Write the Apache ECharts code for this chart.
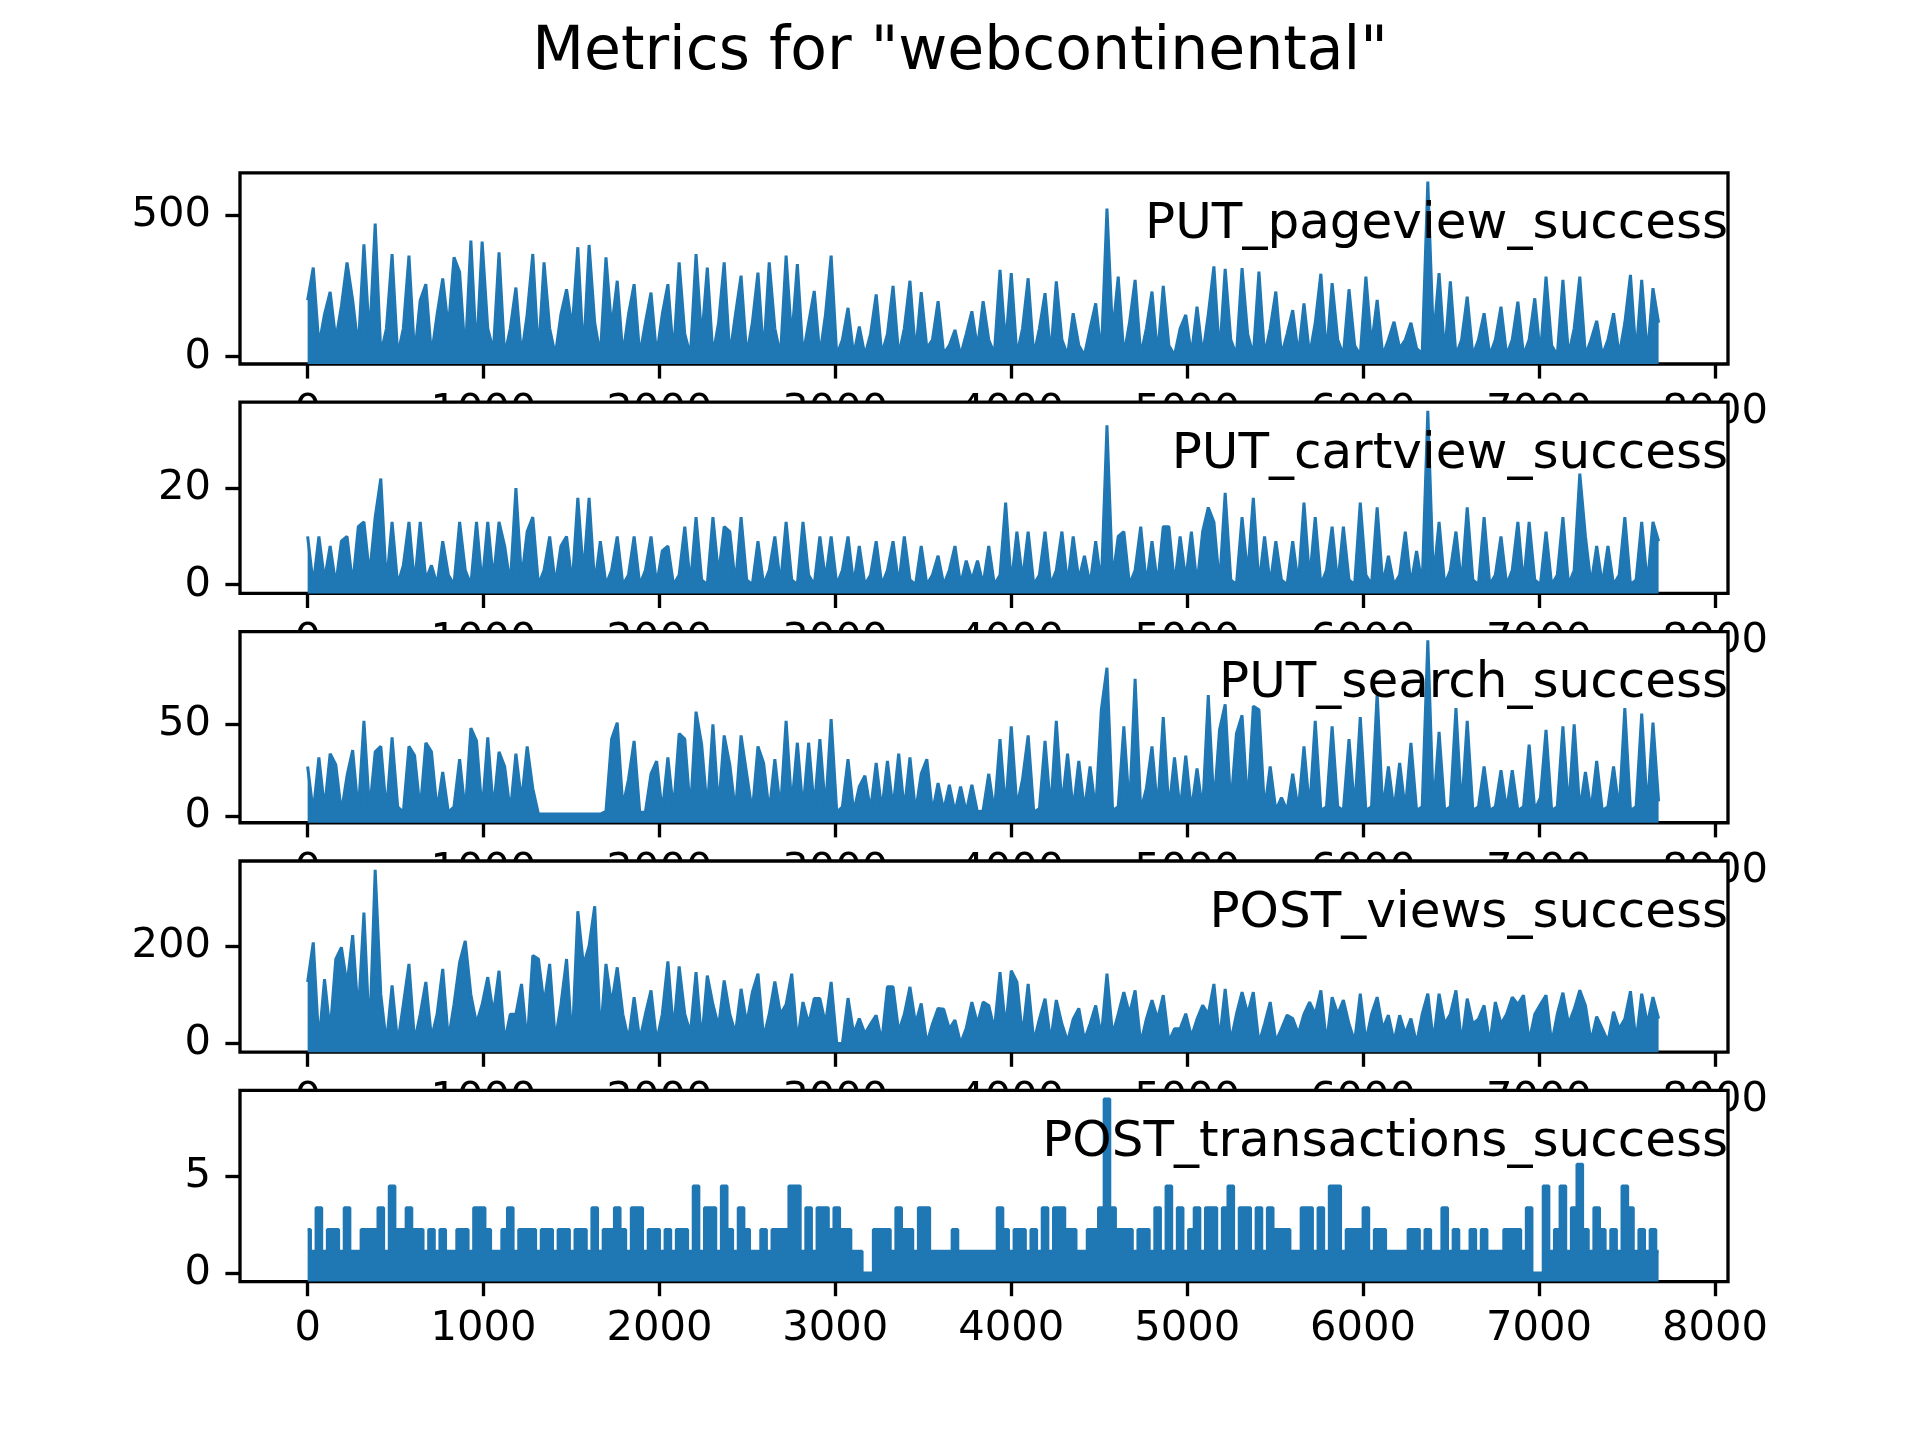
<!DOCTYPE html>
<html>
<head>
<meta charset="utf-8">
<script src="https://cdn.jsdelivr.net/npm/echarts@6/dist/echarts.min.js"></script>
<style>
html,body{margin:0;padding:0;background:#ffffff;}
#chart{width:1920px;height:1440px;}
</style>
</head>
<body>
<div id="chart"></div>
<script>
// ---- data ----
const chartTitle = 'Metrics for "webcontinental"';
const panelNames = ['PUT_pageview_success', 'PUT_cartview_success', 'PUT_search_success', 'POST_views_success', 'POST_transactions_success'];
const sampleStep = 32;      // time-index spacing of the values below
const seriesLength = 7691;  // number of points of the original series
const xTickValues = [0, 1000, 2000, 3000, 4000, 5000, 6000, 7000, 8000];
const yTickValues = [[0, 500], [0, 20], [0, 50], [0, 200], [0, 5]];

const pageview = [
200,316,40,150,230,60,180,334,200,30,
398,60,472,10,100,364,5,100,358,5,
200,257,5,150,277,100,352,300,5,412,
10,408,100,20,370,5,100,245,5,150,
364,5,334,100,5,150,239,100,388,5,
396,120,5,352,100,269,5,150,257,5,
120,227,5,150,257,5,334,80,5,364,
60,316,5,120,334,5,150,287,5,120,
298,5,334,100,5,358,60,328,5,120,
233,5,150,358,5,60,173,5,107,5,
80,221,10,80,251,5,100,269,10,229,
30,60,197,10,40,95,5,80,161,30,
197,60,10,308,40,296,5,100,278,5,
100,225,5,267,60,5,154,40,5,100,
189,5,525,80,284,5,120,272,5,100,
231,5,251,40,5,100,148,5,177,5,
150,320,5,311,60,5,314,80,5,302,
5,100,231,5,80,165,5,189,5,120,
294,5,261,60,5,239,40,5,284,40,
201,5,60,124,30,60,120,30,10,621,
60,296,5,267,5,60,213,5,60,154,
5,60,177,5,60,195,5,60,207,5,
284,40,5,272,5,100,284,5,60,127,
5,60,154,5,120,290,5,272,5,243,
120
];

const cartview = [
10,0,10,1,8,0,9,10,0,12,
13,2,14,22,0,13,0,4,13,0,
13,1,4,0,9,2,0,13,3,0,
13,0,13,1,13,8,0,20,1,11,
14,0,3,10,0,8,10,0,18,2,
18,0,9,0,3,10,0,2,10,0,
3,10,0,7,8,0,2,12,0,14,
1,0,14,2,12,11,0,14,1,0,
9,0,3,10,0,13,1,0,13,2,
0,10,1,10,0,3,10,0,8,0,
2,9,0,3,9,0,10,1,0,8,
0,2,6,0,3,8,0,5,1,5,
0,8,0,2,17,0,11,1,11,0,
2,11,0,3,11,0,10,1,6,0,
9,0,33,1,10,11,0,3,12,0,
9,0,12,12,0,10,1,11,0,11,
16,13,0,19,1,0,14,2,18,0,
10,0,9,1,0,9,0,17,1,14,
0,3,12,0,12,1,0,17,2,0,
16,0,6,0,2,11,0,7,0,36,
1,13,0,3,11,0,16,1,0,14,
0,2,10,0,3,13,0,13,1,0,
11,0,2,14,0,3,23,10,0,8,
0,8,0,2,14,0,1,13,0,13,
9
];

const search = [
27,2,32,4,34,28,2,22,36,2,
52,3,35,38,2,43,5,2,38,33,
3,40,35,3,24,2,5,31,2,48,
41,2,43,3,35,27,2,34,8,38,
15,1,1,1,1,1,1,1,1,1,
1,1,1,2.5,42,51,5,20,41,2,
2,23,30,2,32,3,45,42,2,57,
39,3,50,4,44,28,2,44,23,2,
38,29,2,31,3,52,5,40,3,40,
4,42,3,53,2,5,31,2,16,22,
3,29,3,30,4,34,3,32,2,23,
31,2,18,3,17,2,16,2,17,2,
3,23,2,42,3,49,5,20,44,2,
4,41,3,52,5,34,3,30,3,27,
3,58,81,3,5,49,3,75,3,15,
38,3,54,3,32,3,33,3,26,3,
66,5,47,61,5,45,55,5,60,58,
3,27,3,10,3,23,3,38,3,52,
3,5,49,5,3,42,3,54,3,5,
67,3,27,3,29,3,40,3,5,96,
3,46,3,5,59,3,52,3,5,27,
3,5,25,3,25,3,5,39,3,10,
47,3,5,49,3,50,3,24,3,30,
3,5,27,3,59,3,5,56,3,51,
8
];

const views = [
126,207,0,132,24,173,197,120,222,58,
268,11,356,100,0,119,0,80,163,4,
60,126,11,60,153,7,80,166,210,100,
41,80,136,60,149,4,60,60,122,0,
180,173,80,163,7,80,173,0,271,160,
200,281,14,163,80,156,60,7,95,7,
60,109,4,60,168,24,158,60,21,146,
4,139,80,34,129,60,20,112,40,105,
143,11,60,127,60,80,143,4,85,40,
92,92,40,126,0,0,93,20,51,20,
40,58,4,116,116,24,60,116,40,82,
0,40,72,70,30,48,0,31,85,40,
85,78,28,146,31,149,126,14,122,4,
50,92,4,89,40,4,50,72,7,40,
78,14,143,18,60,105,60,109,0,50,
89,50,99,4,30,30,61,14,50,78,
60,122,7,112,4,60,105,60,105,0,
40,85,4,30,58,51,20,60,85,60,
109,0,95,60,89,40,4,102,4,60,
95,30,58,4,58,20,51,0,60,102,
4,102,40,60,109,0,92,40,50,78,
0,85,40,60,95,80,99,4,60,80,
99,0,60,104,40,70,109,78,4,55,
30,4,65,30,50,107,4,102,40,95,
51
];

const transactions = [
2.25,1.125,3.375,1.125,2.25,2.25,1.125,3.375,1.125,1.125,
2.25,2.25,2.25,3.375,1.125,4.5,2.25,2.25,3.375,2.25,
2.25,1.125,2.25,1.125,2.25,1.125,1.125,2.25,2.25,1.125,
3.375,3.375,2.25,1.125,1.125,2.25,3.375,1.125,2.25,2.25,
2.25,1.125,2.25,2.25,1.125,2.25,2.25,1.125,2.25,2.25,
1.125,3.375,1.125,2.25,2.25,3.375,2.25,1.125,3.375,3.375,
1.125,2.25,2.25,1.125,2.25,1.125,2.25,2.25,1.125,4.5,
1.125,3.375,3.375,1.125,4.5,2.25,1.125,3.375,2.25,1.125,
1.125,2.25,1.125,2.25,2.25,2.25,4.5,4.5,1.125,3.375,
1.125,3.375,3.375,2.25,3.375,2.25,2.25,1.125,1.125,0,
0,2.25,2.25,2.25,1.125,3.375,2.25,2.25,1.125,3.375,
3.375,1.125,1.125,1.125,1.125,2.25,1.125,1.125,1.125,1.125,
1.125,1.125,1.125,3.375,2.25,1.125,2.25,2.25,1.125,2.25,
1.125,3.375,1.125,3.375,3.375,2.25,2.25,1.125,1.125,2.25,
2.25,3.375,9,3.375,2.25,2.25,2.25,1.125,2.25,2.25,
1.125,3.375,1.125,4.5,1.125,3.375,1.125,2.25,3.375,1.125,
3.375,3.375,1.125,3.375,4.5,1.125,3.375,3.375,1.125,3.375,
1.125,3.375,2.25,2.25,2.25,1.125,1.125,3.375,3.375,1.125,
3.375,1.125,4.5,4.5,1.125,2.25,2.25,2.25,3.375,1.125,
2.25,2.25,1.125,1.125,1.125,1.125,2.25,2.25,1.125,2.25,
1.125,1.125,3.375,1.125,2.25,1.125,1.125,2.25,1.125,2.25,
1.125,1.125,1.125,2.25,2.25,2.25,1.125,3.375,0,0,
4.5,1.125,2.25,4.5,1.125,3.375,5.625,2.25,1.125,3.375,
2.25,1.125,2.25,1.125,4.5,3.375,1.125,2.25,1.125,2.25,
1.125
];

const panelValues = [pageview, cartview, search, views, transactions];

// ---- layout (matplotlib default subplot geometry at 300 dpi) ----
const W = 1920, H = 1440;
const figLeft = 0.125, figRight = 0.9, figBottom = 0.11, figTop = 0.88, hspace = 0.2;
const nRows = panelValues.length;
const axH = (figTop - figBottom) * H / (nRows + (nRows - 1) * hspace);
const axLeft = figLeft * W;
const axWidth = (figRight - figLeft) * W;
const firstTop = (1 - figTop) * H;
const lineColor = '#1f77b4';
const fontFamily = 'DejaVu Sans';
const tickFont = 41.67;
const spineW = 3.33;
const tickLen = 14.6;

const xMin = -0.05 * (seriesLength - 1);
const xMax = 1.05 * (seriesLength - 1);
const plainNumber = function (v) { return String(v); };

const grids = [], xAxes = [], yAxes = [], series = [], titles = [];

titles.push({
  text: chartTitle, left: 'center', top: 23.2, padding: 0, z: 100,
  textStyle: {fontSize: 60, fontWeight: 'normal', fontFamily: fontFamily, color: '#000'}
});

panelValues.forEach(function (vals, i) {
  const top = firstTop + i * axH * (1 + hspace);
  const dMin = Math.min.apply(null, vals), dMax = Math.max.apply(null, vals);
  const pad = 0.05 * (dMax - dMin);
  grids.push({
    left: axLeft, top: top, width: axWidth, height: axH,
    show: true, backgroundColor: '#ffffff', borderColor: '#000000', borderWidth: spineW,
    containLabel: false, outerBoundsMode: 'none', z: 10 * i
  });
  xAxes.push({
    gridIndex: i, type: 'value', min: xMin, max: xMax, z: 10 * i + 1,
    axisLine: {show: false, onZero: false},
    splitLine: {show: false},
    axisTick: {show: true, inside: false, length: tickLen, customValues: xTickValues,
      lineStyle: {color: '#000', width: spineW}},
    axisLabel: {show: true, customValues: xTickValues, margin: 27, fontSize: tickFont,
      fontFamily: fontFamily, color: '#000', hideOverlap: false, formatter: plainNumber}
  });
  yAxes.push({
    gridIndex: i, type: 'value', min: dMin - pad, max: dMax + pad, z: 10 * i + 1,
    axisLine: {show: false, onZero: false},
    splitLine: {show: false},
    axisTick: {show: true, inside: false, length: tickLen, customValues: yTickValues[i],
      lineStyle: {color: '#000', width: spineW}},
    axisLabel: {show: true, customValues: yTickValues[i], margin: 29, fontSize: tickFont,
      fontFamily: fontFamily, color: '#000', hideOverlap: false, formatter: plainNumber}
  });
  const s = {
    type: 'line', xAxisIndex: i, yAxisIndex: i, z: 10 * i + 2,
    data: vals.map(function (v, k) { return [k * sampleStep, v]; }),
    showSymbol: false, symbol: 'none', silent: true, animation: false,
    lineStyle: {color: lineColor, width: 3},
    itemStyle: {color: lineColor},
    areaStyle: {color: lineColor, opacity: 1, origin: 'start'}
  };
  if (i === nRows - 1) {
    s.step = 'middle';
  }
  series.push(s);
  titles.push({
    text: panelNames[i], right: W - (axLeft + axWidth), top: top + 27.5, padding: 0, z: 100,
    textStyle: {fontSize: 50, fontWeight: 'normal', fontFamily: fontFamily, color: '#000'}
  });
});

const chart = echarts.init(document.getElementById('chart'), null, {renderer: 'canvas', width: W, height: H});
chart.setOption({
  backgroundColor: '#ffffff',
  animation: false,
  title: titles,
  grid: grids,
  xAxis: xAxes,
  yAxis: yAxes,
  series: series
});
</script>
</body>
</html>
